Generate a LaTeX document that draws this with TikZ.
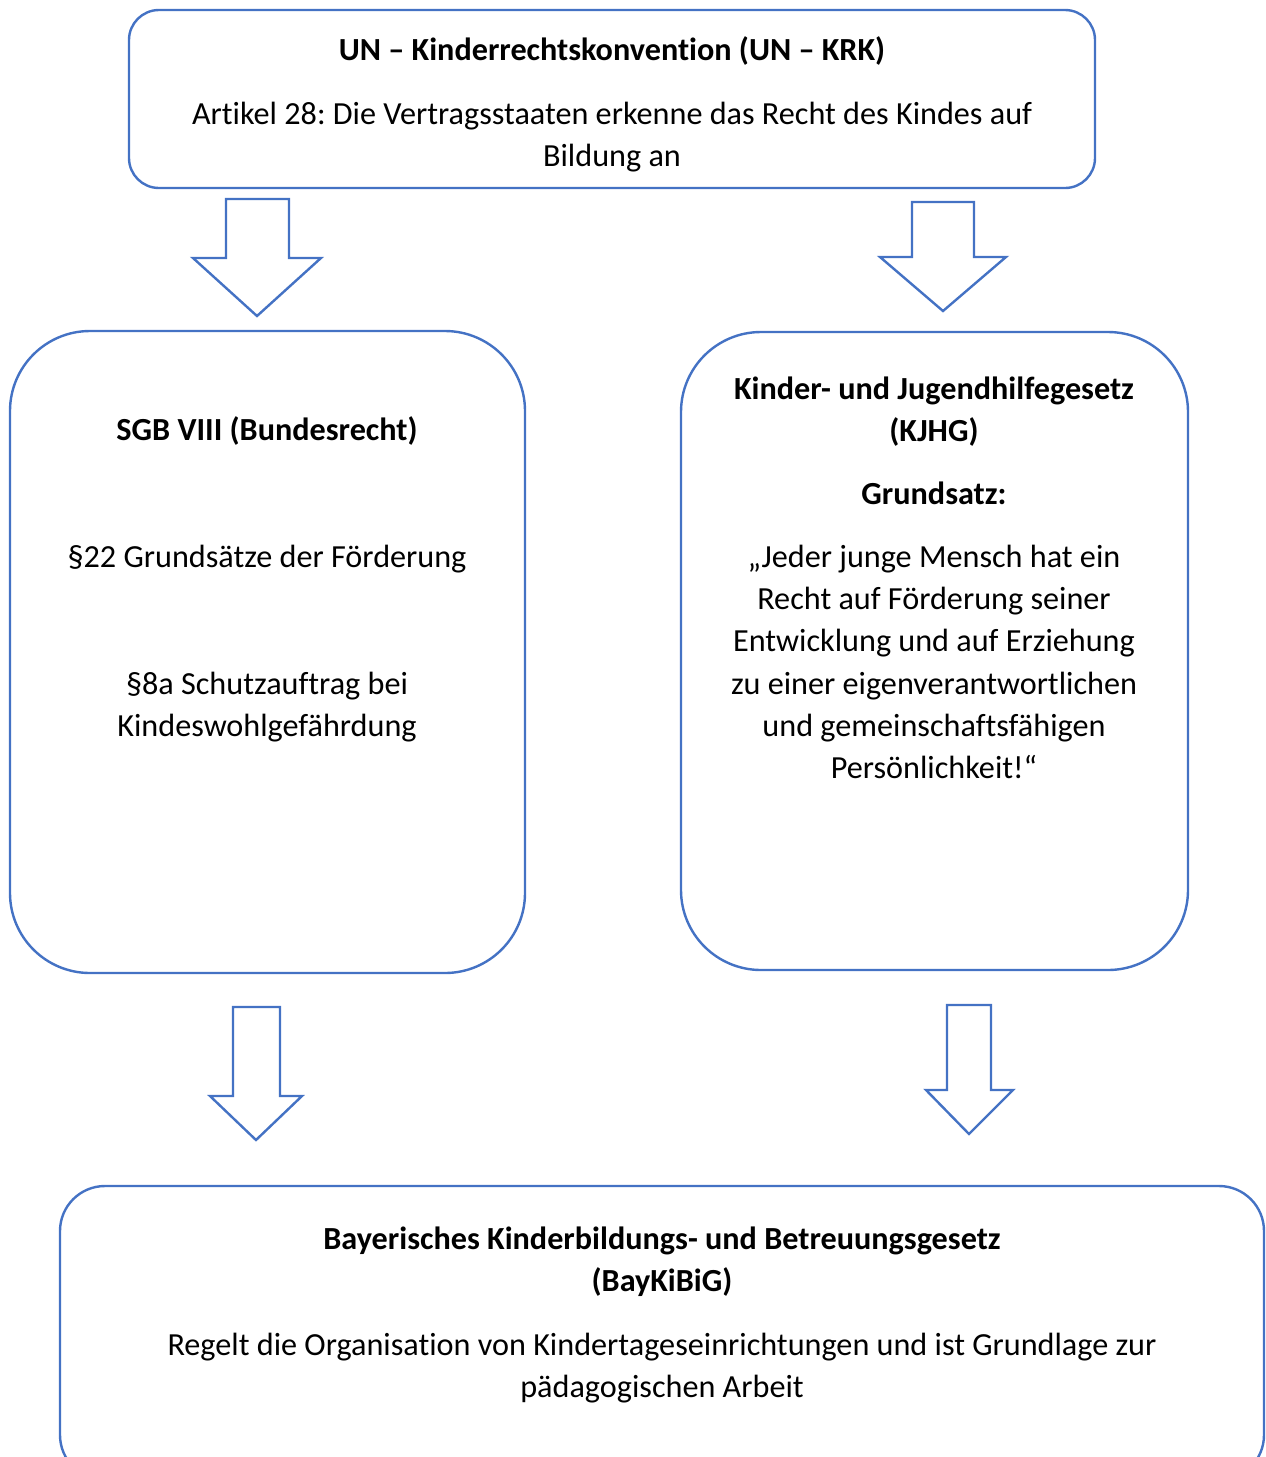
\documentclass[tikz,border=0pt]{standalone}
\usepackage{fontspec}
\setmainfont{Carlito}[Ligatures=NoCommon]
\definecolor{wblue}{HTML}{4472C4}
\frenchspacing
\begin{document}
\begin{tikzpicture}[x=0.5pt,y=-0.5pt,
  box/.style={draw=wblue,line width=1.2pt,fill=white,inner sep=0pt},
  txt/.style={anchor=base,inner sep=0pt,font=\fontsize{16.1}{21}\selectfont},
  btxt/.style={txt,font=\fontsize{16.1}{21}\selectfont\bfseries},
  blockarrow/.style={draw=wblue,line width=1.2pt,fill=white,line join=miter}]
\useasboundingbox (0,0) rectangle (1265,1457);
% boxes
\node[box,rounded corners=15pt,minimum width=483pt,minimum height=89pt] (top) at (612,99) {};
\node[box,rounded corners=40pt,minimum width=257.5pt,minimum height=321pt] (left) at (267.5,652) {};
\node[box,rounded corners=40pt,minimum width=253.5pt,minimum height=319pt] (right) at (934.5,651) {};
\node[box,rounded corners=22.5pt,minimum width=602pt,minimum height=147pt] (bottom) at (662,1333) {};
% block arrows
\draw[blockarrow] (226,199) -- (289,199) -- (289,258) -- (321,258) -- (257,316) -- (193,258) -- (226,258) -- cycle;
\draw[blockarrow] (912,202) -- (974,202) -- (974,257) -- (1006,257) -- (943,311) -- (880,257) -- (912,257) -- cycle;
\draw[blockarrow] (233,1007) -- (280,1007) -- (280,1096) -- (302,1096) -- (256,1140) -- (210,1096) -- (233,1096) -- cycle;
\draw[blockarrow] (947,1005) -- (991,1005) -- (991,1090) -- (1013,1090) -- (969,1134) -- (926,1090) -- (947,1090) -- cycle;
% top text
\node[btxt] (t1) at (612,60) {UN – Kinderrechtskonvention (UN – KRK)};
\node[txt] (t2) at (612,124) {Artikel 28: Die Vertragsstaaten erkenne das Recht des Kindes auf};
\node[txt] (t3) at (612,166) {Bildung an};
% left text
\node[btxt] (l1) at (267,440) {SGB VIII (Bundesrecht)};
\node[txt] (l2) at (267,567) {§22 Grundsätze der Förderung};
\node[txt] (l3) at (267,694) {§8a Schutzauftrag bei};
\node[txt] (l4) at (267,736) {Kindeswohlgefährdung};
% right text
\node[btxt] (r1) at (934,399) {Kinder- und Jugendhilfegesetz};
\node[btxt] (r2) at (934,441) {(KJHG)};
\node[btxt] (r3) at (934,504) {Grundsatz:};
\node[txt] (r4) at (934,567) {„Jeder junge Mensch hat ein};
\node[txt] (r5) at (934,609) {Recht auf Förderung seiner};
\node[txt] (r6) at (934,651) {Entwicklung und auf Erziehung};
\node[txt] (r7) at (934,694) {zu einer eigenverantwortlichen};
\node[txt] (r8) at (934,736) {und gemeinschaftsfähigen};
\node[txt] (r9) at (934,778) {Persönlichkeit!“};
% bottom text
\node[btxt] (b1) at (662,1249) {Bayerisches Kinderbildungs- und Betreuungsgesetz};
\node[btxt] (b2) at (662,1291) {(BayKiBiG)};
\node[txt] (b3) at (662,1355) {Regelt die Organisation von Kindertageseinrichtungen und ist Grundlage zur};
\node[txt] (b4) at (662,1397) {pädagogischen Arbeit};
\end{tikzpicture}
\end{document}
